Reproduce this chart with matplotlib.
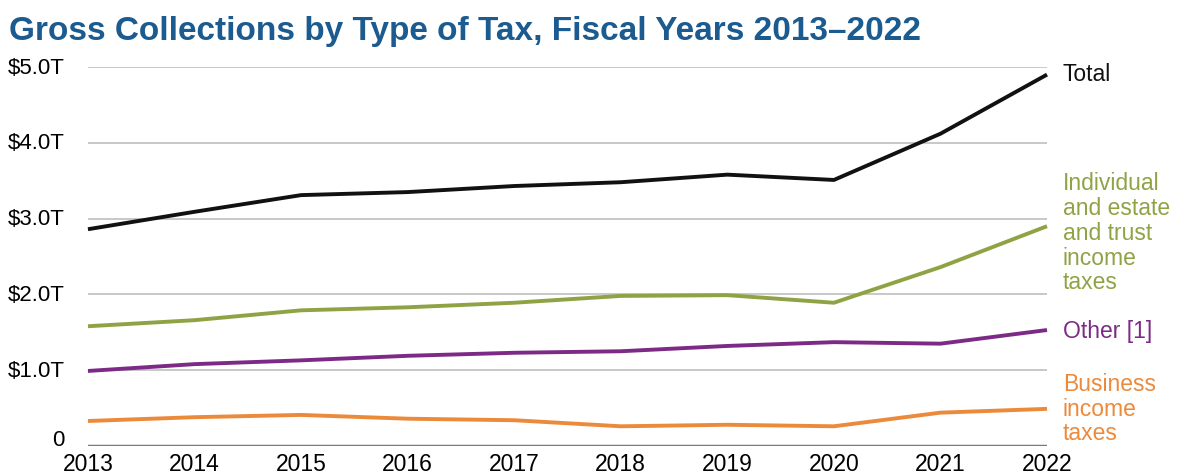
import matplotlib.pyplot as plt
from matplotlib.transforms import ScaledTranslation

plt.rcParams['font.family'] = ['Liberation Sans', 'DejaVu Sans']

years = [2013, 2014, 2015, 2016, 2017, 2018, 2019, 2020, 2021, 2022]
total = [2.86, 3.09, 3.31, 3.35, 3.43, 3.48, 3.58, 3.51, 4.12, 4.90]
individual = [1.58, 1.66, 1.79, 1.83, 1.89, 1.98, 1.99, 1.89, 2.36, 2.90]
other = [0.99, 1.08, 1.13, 1.19, 1.23, 1.25, 1.32, 1.37, 1.35, 1.53]
business = [0.33, 0.38, 0.41, 0.36, 0.34, 0.26, 0.28, 0.26, 0.44, 0.49]

yticks = [0, 1, 2, 3, 4, 5]
ytick_labels = ["0", "$1.0T", "$2.0T", "$3.0T", "$4.0T", "$5.0T"]

series = [
    (total, "#111111", "Total"),
    (individual, "#8fa345", "Individual\nand estate\nand trust\nincome\ntaxes"),
    (other, "#7d2a87", "Other [1]"),
    (business, "#ec8a3c", "Business\nincome\ntaxes"),
]

fig = plt.figure(figsize=(11.84, 4.77), dpi=100)
ax = fig.add_axes([0.0743, 0.0629, 0.8100, 0.7945])

for y in yticks[1:]:
    ax.axhline(y, color="#c4c4c4", lw=1.3, zorder=1)
ax.axhline(0, color="#7a7a7a", lw=2.5, zorder=1)

for vals, col, lab in series:
    ax.plot(years, vals, color=col, lw=2.8, zorder=3, clip_on=False,
            solid_capstyle="butt")

# right-hand labels
fs = 16.5
ax.text(2022.15, 4.92, "Total", color="#111111", fontsize=fs, va="center", ha="left")
ax.text(2022.15, 2.82, series[1][2], color="#8fa345", fontsize=fs, va="center", ha="left",
        linespacing=1.1)
ax.text(2022.15, 1.53, "Other [1]", color="#7d2a87", fontsize=fs, va="center", ha="left")
ax.text(2022.15, 0.50, series[3][2], color="#ec8a3c", fontsize=fs, va="center", ha="left",
        linespacing=1.1)

ax.set_xlim(2013, 2022)
ax.set_ylim(0, 5)
ax.set_xticks(years)
ax.set_xticklabels([str(y) for y in years], fontsize=fs)
ax.set_yticks(yticks)
ax.set_yticklabels(ytick_labels, fontsize=16)
ax.tick_params(axis="both", length=0)
ax.tick_params(axis="y", pad=17)
ax.tick_params(axis="x", pad=4)
# nudge the "0" label upward so it sits above the year labels
zero = ax.get_yticklabels()[0]
zero.set_transform(zero.get_transform() + ScaledTranslation(0, 0.06, fig.dpi_scale_trans))
for lbl in ax.get_yticklabels():
    lbl.set_va("center")
for s in ax.spines.values():
    s.set_visible(False)

fig.text(0.008, 0.935, "Gross Collections by Type of Tax, Fiscal Years 2013\u20132022",
         color="#1b5b8f", fontsize=24, fontweight="bold", va="center", ha="left")

fig.savefig("out.png", dpi=100)
